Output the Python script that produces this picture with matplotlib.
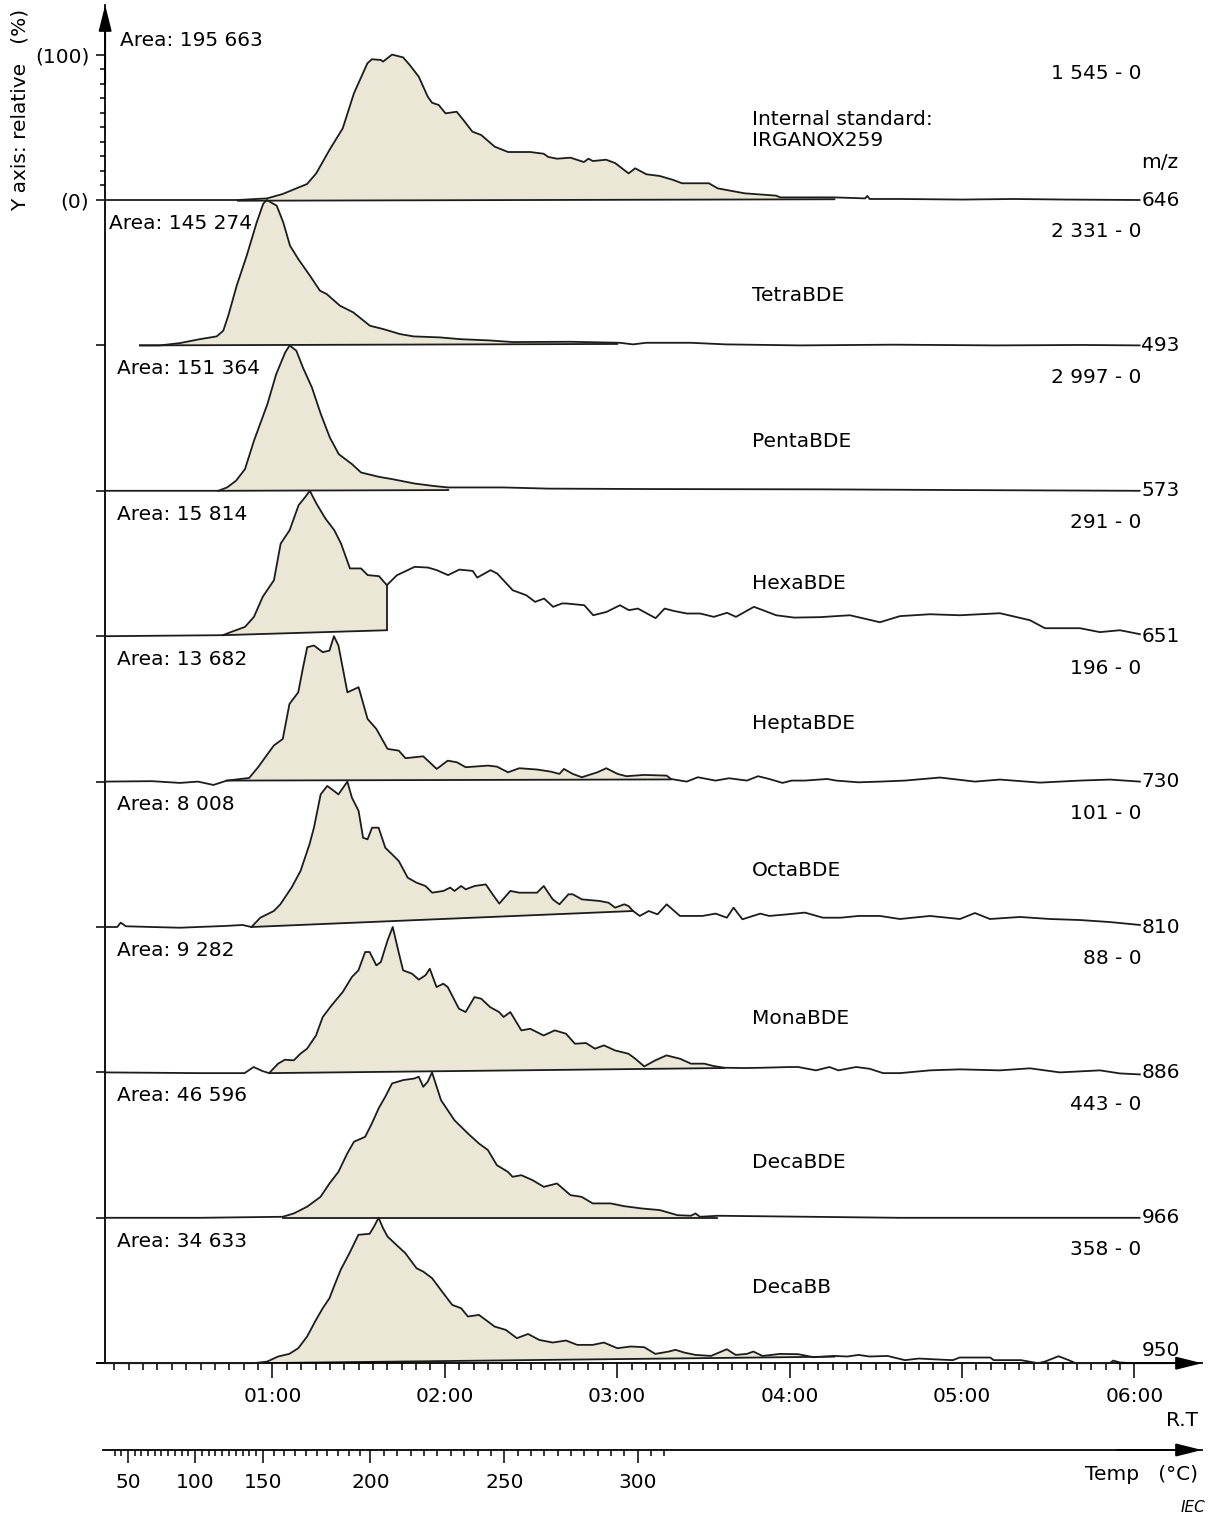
import numpy as np
import matplotlib
matplotlib.use("Agg")
import matplotlib.pyplot as plt

plt.rcParams["font.family"] = "DejaVu Sans"
plt.rcParams["font.size"] = 14.5

# ---- traces: (retention time [min], relative intensity [%]) ----
irganox = [(0.03, 0), (0.80, 0), (0.969, 1.1), (1.059, 4.1), (1.201, 11.0), (1.254, 18.3), (1.331, 34.4),
           (1.408, 49.3), (1.473, 73.4), (1.551, 94.0), (1.577, 96.8), (1.629, 96.3), (1.642, 95.2),
           (1.694, 100), (1.758, 98.1), (1.797, 92.8), (1.849, 84.8), (1.901, 71.1), (1.926, 66.9),
           (1.965, 65.3), (2.004, 59.6), (2.069, 60.7), (2.108, 55.0), (2.160, 47.0), (2.211, 44.7),
           (2.289, 36.7), (2.367, 33.0), (2.496, 33.0), (2.574, 31.8), (2.600, 29.6), (2.651, 28.4),
           (2.729, 29.1), (2.807, 26.1), (2.833, 28.4), (2.859, 26.8), (2.936, 27.7), (2.988, 25.4),
           (3.066, 18.3), (3.104, 21.8), (3.169, 17.7), (3.247, 16.5), (3.325, 13.8), (3.376, 11.5),
           (3.532, 11.5), (3.583, 8.0), (3.739, 4.6), (3.921, 3.0), (3.946, 1.8), (4.257, 1.8),
           (4.438, 1.1), (4.451, 2.8), (4.464, 0.7), (4.640, 0.7), (5.0, 0.3), (5.3, 0.7), (5.6, 0.3),
           (6.03, 0)]
tetra = [(0.232, 0), (0.348, 0), (0.464, 1.6), (0.580, 4.3), (0.677, 6.2), (0.715, 10.1), (0.744, 20.4),
         (0.793, 41.1), (0.851, 61.7), (0.909, 84.6), (0.947, 97.5), (0.967, 100), (1.025, 96.1),
         (1.063, 84.6), (1.102, 68.6), (1.150, 59.4), (1.218, 47.9), (1.276, 37.6), (1.315, 35.3),
         (1.392, 27.3), (1.469, 22.7), (1.566, 13.5), (1.644, 11.2), (1.740, 7.8), (1.818, 6.2),
         (1.972, 5.5), (2.088, 4.3), (2.262, 3.4), (2.393, 2.3), (2.726, 2.5), (3.016, 1.8), (3.092, 0.7),
         (3.167, 1.8), (3.428, 1.8), (3.630, 0.7), (4.060, 0), (4.6, 0.5), (5.2, 0), (5.7, 0.3), (6.03, 0)]
penta = [(0.03, 0), (0.686, 0), (0.737, 2.3), (0.789, 6.9), (0.841, 14.9), (0.893, 34.4), (0.971, 59.6),
         (1.022, 80.2), (1.074, 95.1), (1.100, 100), (1.139, 96.3), (1.177, 84.8), (1.229, 71.1),
         (1.281, 52.7), (1.333, 36.7), (1.385, 25.2), (1.462, 18.3), (1.514, 12.6), (1.618, 9.6),
         (1.696, 8.0), (1.825, 5.0), (1.929, 3.4), (2.019, 2.3), (2.343, 2.3), (2.6, 1.5), (3.2, 1.2),
         (4.18, 1.0), (5.0, 0.5), (6.03, 0)]
hexa = [(0.03, 0), (0.712, 0.7), (0.763, 3.0), (0.841, 6.4), (0.893, 13.3), (0.944, 27.1), (1.009, 38.5),
        (1.048, 63.7), (1.100, 72.9), (1.152, 90.1), (1.191, 95.8), (1.217, 100), (1.255, 91.3),
        (1.307, 81.0), (1.359, 72.9), (1.398, 63.7), (1.450, 46.6), (1.514, 46.6), (1.553, 42.0),
        (1.618, 41.3), (1.664, 35.1), (1.722, 41.9), (1.825, 47.7), (1.903, 47.2), (1.954, 45.4),
        (2.019, 42.0), (2.084, 45.8), (2.162, 44.9), (2.188, 40.3), (2.265, 45.4), (2.304, 43.1),
        (2.394, 31.6), (2.472, 28.2), (2.524, 23.6), (2.576, 25.9), (2.628, 20.2), (2.679, 22.5),
        (2.705, 22.5), (2.809, 21.3), (2.861, 14.4), (2.938, 16.7), (3.016, 21.3), (3.068, 17.9),
        (3.120, 19.0), (3.223, 12.4), (3.275, 19.0), (3.327, 17.4), (3.404, 15.6), (3.482, 15.6),
        (3.560, 13.3), (3.637, 16.1), (3.689, 13.3), (3.793, 20.2), (3.845, 17.9), (3.922, 14.4),
        (4.026, 12.8), (4.176, 13.1), (4.350, 14.4), (4.524, 9.6), (4.640, 13.8), (4.814, 15.1),
        (4.988, 14.4), (5.220, 15.8), (5.394, 11.0), (5.481, 5.5), (5.684, 5.5), (5.800, 2.8),
        (5.916, 4.1), (6.032, 1.4)]
hepta = [(0.03, 0), (0.30, 0.3), (0.464, -0.9), (0.568, 0), (0.658, -2.3), (0.736, 0.7), (0.865, 2.5),
         (0.917, 9.9), (1.008, 24.8), (1.060, 29.3), (1.099, 53.4), (1.150, 61.4), (1.176, 77.5),
         (1.202, 92.4), (1.241, 93.6), (1.292, 89.0), (1.331, 90.1), (1.357, 100), (1.383, 93.6),
         (1.435, 61.4), (1.500, 64.9), (1.552, 43.1), (1.603, 36.2), (1.668, 22.5), (1.733, 21.3),
         (1.772, 16.1), (1.875, 17.4), (1.953, 8.7), (2.017, 14.4), (2.070, 13.3), (2.121, 9.9),
         (2.251, 11.0), (2.302, 10.3), (2.367, 6.4), (2.432, 9.2), (2.535, 8.3), (2.613, 6.9),
         (2.665, 5.3), (2.691, 8.7), (2.742, 5.3), (2.795, 3.0), (2.885, 6.4), (2.937, 9.2), (3.002, 5.3),
         (3.053, 3.7), (3.157, 4.6), (3.287, 4.1), (3.312, 1.8), (3.403, 0), (3.468, 3.0), (3.520, 1.8),
         (3.571, 0.7), (3.649, 2.3), (3.752, 0.7), (3.817, 3.7), (3.882, 1.8), (3.959, -0.9),
         (4.012, 0.7), (4.089, 0.7), (4.219, 1.8), (4.270, 0.7), (4.400, -0.5), (4.524, 0), (4.669, 0.7),
         (4.872, 2.8), (5.075, 0), (5.220, 1.4), (5.452, -0.7), (5.684, 0.7), (5.858, 1.4), (6.032, 0)]
octa = [(0.03, 0), (0.10, 0), (0.12, 3.0), (0.15, 0.5), (0.30, 0), (0.464, -0.5), (0.568, 0), (0.723, 0.7),
        (0.827, 1.4), (0.878, 0), (0.930, 6.4), (1.008, 11.0), (1.046, 15.6), (1.111, 27.1),
        (1.163, 38.5), (1.215, 56.8), (1.241, 68.3), (1.280, 91.2), (1.318, 97.0), (1.357, 93.6),
        (1.383, 91.2), (1.435, 100), (1.461, 89.0), (1.500, 79.8), (1.526, 61.4), (1.552, 60.3),
        (1.578, 68.3), (1.616, 68.3), (1.655, 54.5), (1.694, 50.0), (1.733, 45.4), (1.785, 33.9),
        (1.836, 30.5), (1.888, 28.2), (1.927, 23.6), (1.992, 24.8), (2.031, 27.1), (2.056, 24.8),
        (2.095, 28.2), (2.121, 25.9), (2.173, 28.2), (2.238, 29.3), (2.277, 22.5), (2.316, 16.1),
        (2.380, 24.8), (2.432, 23.6), (2.535, 23.6), (2.574, 28.2), (2.626, 19.0), (2.665, 15.6),
        (2.717, 22.5), (2.742, 22.5), (2.795, 19.0), (2.898, 17.9), (2.950, 16.7), (2.988, 13.3),
        (3.041, 15.6), (3.066, 14.4), (3.092, 11.0), (3.131, 7.6), (3.183, 11.0), (3.234, 8.7),
        (3.287, 15.6), (3.364, 7.6), (3.494, 7.6), (3.571, 9.2), (3.636, 6.4), (3.675, 13.3),
        (3.726, 5.3), (3.830, 9.2), (3.882, 7.6), (3.985, 8.7), (4.089, 9.9), (4.193, 6.4), (4.296, 6.4),
        (4.400, 7.6), (4.524, 7.6), (4.640, 5.5), (4.814, 7.6), (4.988, 5.5), (5.075, 9.6), (5.162, 5.5),
        (5.336, 6.9), (5.510, 5.5), (5.684, 4.8), (5.858, 3.4), (6.032, 1.4)]
mona = [(0.03, 0), (0.580, -0.5), (0.839, -0.5), (0.891, 3.7), (0.943, 0.9), (0.981, -0.5), (1.033, 6.0),
        (1.072, 8.7), (1.124, 8.3), (1.162, 12.8), (1.201, 16.3), (1.253, 25.4), (1.292, 38.1),
        (1.344, 46.2), (1.408, 55.3), (1.461, 65.6), (1.499, 70.2), (1.538, 82.8), (1.564, 82.8),
        (1.603, 73.6), (1.629, 75.9), (1.668, 90.8), (1.698, 100), (1.732, 82.8), (1.758, 70.2),
        (1.810, 67.9), (1.849, 63.8), (1.888, 66.8), (1.913, 71.3), (1.952, 58.7), (1.991, 61.0),
        (2.017, 58.7), (2.082, 43.8), (2.121, 41.5), (2.172, 51.8), (2.211, 50.7), (2.263, 44.9),
        (2.315, 41.5), (2.341, 38.1), (2.380, 41.5), (2.444, 28.9), (2.496, 30.0), (2.573, 25.4),
        (2.638, 28.9), (2.703, 26.6), (2.755, 19.7), (2.819, 20.2), (2.871, 16.3), (2.923, 18.6),
        (2.988, 15.1), (3.066, 12.8), (3.105, 9.4), (3.157, 4.1), (3.221, 8.3), (3.286, 11.7),
        (3.364, 9.4), (3.428, 6.0), (3.506, 6.0), (3.558, 4.4), (3.622, 3.2), (3.739, 3.0), (3.843, 3.2),
        (3.998, 3.7), (4.050, 3.7), (4.153, 1.4), (4.231, 3.7), (4.283, 1.4), (4.386, 3.7), (4.464, 2.5),
        (4.542, -0.5), (4.640, -0.5), (4.814, 1.4), (4.988, 2.1), (5.220, 1.4), (5.394, 2.8),
        (5.568, 0), (5.800, 1.4), (5.916, -0.7), (6.032, -1.4)]
deca_bde = [(0.03, 0), (0.580, 0), (1.059, 0.7), (1.124, 3.0), (1.201, 7.6), (1.279, 14.4), (1.331, 23.6),
            (1.383, 31.6), (1.434, 44.2), (1.473, 52.3), (1.538, 55.7), (1.577, 64.9), (1.616, 75.2),
            (1.655, 83.3), (1.694, 92.4), (1.758, 94.7), (1.823, 95.8), (1.849, 97.0), (1.875, 90.1),
            (1.901, 93.6), (1.926, 100), (1.978, 80.9), (2.056, 67.1), (2.134, 58.0), (2.198, 51.1),
            (2.250, 46.6), (2.302, 36.2), (2.366, 31.6), (2.393, 28.2), (2.444, 29.3), (2.509, 25.9),
            (2.574, 21.3), (2.651, 23.6), (2.729, 15.6), (2.794, 14.4), (2.858, 9.9), (2.962, 9.9),
            (3.040, 8.0), (3.144, 6.4), (3.247, 5.3), (3.350, 1.8), (3.428, 1.4), (3.454, 3.0),
            (3.480, 0.7), (3.584, 1.4), (4.640, 0), (6.03, 0)]
deca_bb = [(0.03, 0), (0.891, 0), (0.969, 1.1), (1.033, 4.6), (1.098, 6.4), (1.150, 10.3), (1.201, 18.3),
           (1.253, 29.8), (1.292, 37.8), (1.331, 44.7), (1.357, 52.7), (1.396, 64.2), (1.447, 75.7),
           (1.499, 88.3), (1.564, 89.0), (1.590, 94.1), (1.616, 100), (1.642, 92.8), (1.668, 87.1),
           (1.719, 81.4), (1.771, 75.7), (1.836, 65.3), (1.875, 63.0), (1.926, 58.5), (1.991, 48.2),
           (2.043, 40.1), (2.095, 37.8), (2.134, 32.1), (2.198, 33.2), (2.237, 29.8), (2.289, 25.2),
           (2.354, 22.9), (2.418, 17.2), (2.483, 20.1), (2.548, 16.0), (2.626, 14.2), (2.703, 15.6),
           (2.768, 12.6), (2.858, 12.6), (2.923, 14.2), (3.001, 10.3), (3.079, 11.5), (3.157, 11.0),
           (3.221, 6.4), (3.299, 8.0), (3.338, 9.2), (3.389, 7.3), (3.454, 5.7), (3.544, 5.0),
           (3.636, 9.6), (3.687, 5.7), (3.752, 6.4), (3.790, 8.0), (3.843, 5.0), (3.946, 6.4),
           (4.050, 6.2), (4.140, 4.1), (4.257, 5.0), (4.335, 4.6), (4.400, 5.7), (4.464, 4.6),
           (4.568, 5.0), (4.669, 2.1), (4.749, 3.2), (4.868, 2.5), (4.947, 2.1), (4.986, 3.9),
           (5.164, 3.9), (5.184, 2.1), (5.342, 2.1), (5.441, 0), (5.481, 1.1), (5.560, 4.8), (5.619, 2.1),
           (5.659, 0), (5.857, 0), (5.877, 1.8), (5.916, 0.5), (5.995, 0)]

traces = [irganox, tetra, penta, hexa, hepta, octa, mona, deca_bde, deca_bb]
names = ["Internal standard:\nIRGANOX259", "TetraBDE", "PentaBDE", "HexaBDE", "HeptaBDE",
         "OctaBDE", "MonaBDE", "DecaBDE", "DecaBB"]
areas = ["195 663", "145 274", "151 364", "15 814", "13 682", "8 008", "9 282", "46 596", "34 633"]
scales = ["1 545 - 0", "2 331 - 0", "2 997 - 0", "291 - 0", "196 - 0", "101 - 0", "88 - 0",
          "443 - 0", "358 - 0"]
mz = ["646", "493", "573", "651", "730", "810", "886", "966", "950"]
# integrated window: start/end time and baseline level (%) at each end
integ_rt = [(0.80, 4.26), (0.232, 3.00), (0.686, 2.02), (0.712, 1.664), (0.736, 3.31),
            (0.878, 3.092), (0.981, 3.62), (1.059, 3.58), (0.891, 4.26)]
integ_base = [(-0.5, 0.5), (0, 1.0), (0, 0.5), (0.7, 4.1), (0.7, 1.5), (0, 11.0), (-0.5, 3.0),
              (0, 0), (0, 4.5)]

# temperature programme: oven temperature vs retention time
temp_ticks = [50, 100, 150, 200, 250, 300]
temp_rt = [0.162, 0.551, 0.945, 1.569, 2.346, 3.118]

W, H = 1215, 1519
fig = plt.figure(figsize=(W / 100, H / 100), dpi=100)


def box(x0, y0, x1, y1):
    return [x0 / W, 1 - y1 / H, (x1 - x0) / W, (y1 - y0) / H]


PX_MIN = 172.4     # pixels per minute
PX_PCT = 1.454     # pixels per percent
x_left = (97 - 100) / PX_MIN
x_right = (1202 - 100) / PX_MIN
fill_c = "#ebe7d7"
line_c = "#1c1c1c"

ax = fig.add_axes(box(97, 5, 1202, 1363.2))
ax.set_xlim(x_left, x_right)
ax.set_ylim(0, (1363.2 - 5) / PX_PCT)

n = len(traces)
for i, tr in enumerate(traces):
    off = (n - 1 - i) * 100
    rt, pct = np.array(tr, dtype=float).T
    t0, t1 = integ_rt[i]
    b0, b1 = integ_base[i]
    m = (rt > t0) & (rt < t1)
    xs = np.concatenate([[t0], rt[m], [t1]])
    ys = np.concatenate([[np.interp(t0, rt, pct)], pct[m], [np.interp(t1, rt, pct)]])
    base = b0 + (b1 - b0) * (xs - t0) / (t1 - t0)
    ax.fill_between(xs, off + ys, off + base, color=fill_c, lw=0, zorder=1)
    ax.plot([t0, t1], [off + b0, off + b1], color=line_c, lw=1.3, zorder=2)
    if i == 3:
        # forced drop line at the end of the integration
        ax.plot([t1, t1], [off + b1, off + ys[-1]], color=line_c, lw=1.3, zorder=2)
    ax.plot(rt, off + pct, color=line_c, lw=1.3, zorder=3, clip_on=False)

    area_x = 0.05 if i == 1 else 0.1
    ax.text(0.116 if i == 0 else area_x, off + (110 if i == 0 else 84), "Area: " + areas[i],
            ha="left", va="center")
    ax.text(6.04, off + (87 if i == 0 else 78), scales[i], ha="right", va="center")
    name_dy = [48, 34, 34, 36, 40, 39, 37, 38, 52][i]
    ax.text(3.782, off + name_dy, names[i], ha="left", va="center", linespacing=1.15)
    ax.text(6.04, off + (9 if i == n - 1 else 0), mz[i], ha="left", va="center")

ax.text(6.04, 826, "m/z", ha="left", va="center")

# axes styling
for s in ["top", "right"]:
    ax.spines[s].set_visible(False)
ax.spines["left"].set_position(("data", 0.03))
ax.spines["left"].set_linewidth(1.3)
ax.spines["bottom"].set_linewidth(1.3)

ax.set_xticks(range(1, 7))
ax.set_xticklabels(["%02d:00" % m for m in range(1, 7)])
ax.set_xticks([k / 12 for k in range(1, 73) if k % 12], minor=True)
ax.tick_params(axis="x", which="major", direction="out", length=11, width=1.1, pad=6)
ax.tick_params(axis="x", which="minor", direction="out", length=5, width=1.1)

ax.set_yticks(range(0, 1000, 100))
ax.set_yticklabels([""] * 8 + ["(0)", "(100)"])
ax.set_yticks(range(810, 900, 10), minor=True)
ax.tick_params(axis="y", which="major", direction="out", length=6.5, width=1.1, pad=5)
ax.tick_params(axis="y", which="minor", direction="out", length=3.5, width=1.1)

arrow = dict(arrowstyle="-|>,head_length=1.6,head_width=0.4", mutation_scale=10, color="k",
             lw=1.3, shrinkA=0, shrinkB=0)
ax.annotate("", xy=(0.03, ax.get_ylim()[1]), xytext=(0.03, 880), arrowprops=arrow,
            annotation_clip=False)
ax.annotate("", xy=(x_right, 0), xytext=(5.9, 0), arrowprops=arrow, annotation_clip=False)

# temperature axis
axt = fig.add_axes(box(97, 1440, 1202, 1450))
axt.set_xlim(x_left, x_right)
axt.set_ylim(0, 1)
for s in ["top", "right", "left"]:
    axt.spines[s].set_visible(False)
axt.spines["bottom"].set_bounds((103 - 100) / PX_MIN, x_right)
axt.spines["bottom"].set_linewidth(1.3)
axt.set_yticks([])
axt.set_xticks(temp_rt)
axt.set_xticklabels([str(t) for t in temp_ticks])
minor_temp = np.arange(40, 315, 5)
slope_hi = (temp_rt[-1] - temp_rt[-2]) / (temp_ticks[-1] - temp_ticks[-2])
slope_lo = (temp_rt[1] - temp_rt[0]) / (temp_ticks[1] - temp_ticks[0])
minor_rt = np.interp(minor_temp, temp_ticks, temp_rt)
minor_rt = np.where(minor_temp > temp_ticks[-1],
                    temp_rt[-1] + (minor_temp - temp_ticks[-1]) * slope_hi, minor_rt)
minor_rt = np.where(minor_temp < temp_ticks[0],
                    temp_rt[0] - (temp_ticks[0] - minor_temp) * slope_lo, minor_rt)
axt.set_xticks(minor_rt[minor_temp % 50 != 0], minor=True)
axt.tick_params(axis="x", which="major", direction="out", length=9.5, width=1.1, pad=7)
axt.tick_params(axis="x", which="minor", direction="out", length=4, width=1.1)
axt.annotate("", xy=(x_right, 0), xytext=(5.9, 0), arrowprops=arrow, annotation_clip=False)

fig.text(20 / W, 1 - 110 / H, "Y axis: relative   (%)", rotation=90, ha="center", va="center")
fig.text(1198 / W, 1 - 1420 / H, "R.T", ha="right", va="center")
fig.text(1198 / W, 1 - 1474 / H, "Temp   (°C)", ha="right", va="center")
fig.text(1205 / W, 1 - 1507 / H, "IEC", ha="right", va="center", fontsize=11, style="italic")

fig.savefig("out.png", dpi=100)
